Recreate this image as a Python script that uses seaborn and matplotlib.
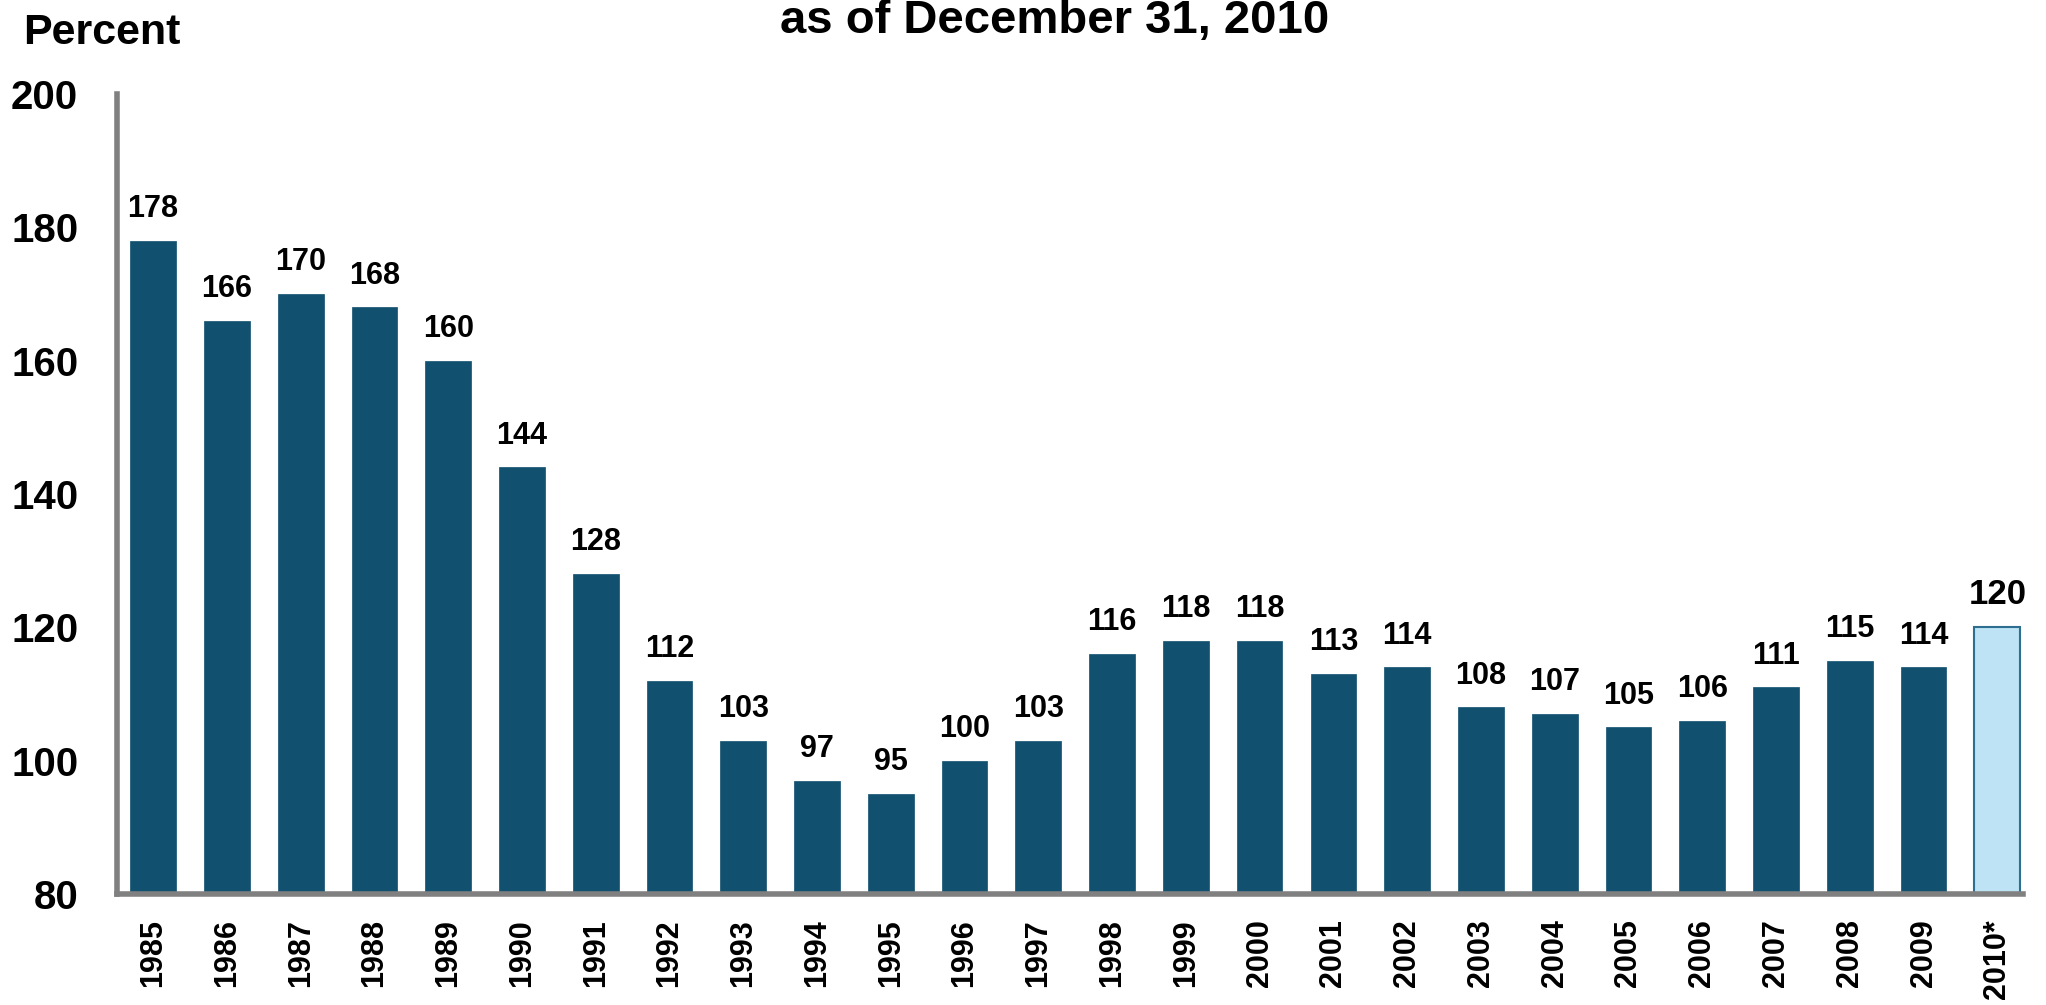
import matplotlib
matplotlib.use('Agg')
import matplotlib.pyplot as plt
import seaborn as sns
import pandas as pd

years = ['1985', '1986', '1987', '1988', '1989', '1990', '1991', '1992', '1993',
         '1994', '1995', '1996', '1997', '1998', '1999', '2000', '2001', '2002',
         '2003', '2004', '2005', '2006', '2007', '2008', '2009', '2010*']
values = [178, 166, 170, 168, 160, 144, 128, 112, 103, 97, 95, 100, 103,
          116, 118, 118, 113, 114, 108, 107, 105, 106, 111, 115, 114, 120]

dark = '#11506F'
light = '#BDE3F4'
colors = [dark] * (len(years) - 1) + [light]

df = pd.DataFrame({'year': years, 'value': values})

sns.set_style('white')
plt.rcParams['font.family'] = ['Liberation Sans', 'DejaVu Sans']
plt.rcParams['font.weight'] = 'bold'
plt.rcParams['text.color'] = 'black'
plt.rcParams['xtick.color'] = 'black'
plt.rcParams['ytick.color'] = 'black'

fig = plt.figure(figsize=(20.46, 10.05), dpi=100)
ax = fig.add_axes([0.0572, 0.1104, 0.9316, 0.7961])

sns.barplot(data=df, x='year', y='value', hue='year', palette=colors,
            legend=False, width=0.62, ax=ax, saturation=1, bottom=0)

# bars start at 80 (the axis floor)
ax.set_ylim(80, 200)
ax.set_xlim(-0.49, len(years) - 0.65)

for i, p in enumerate(ax.patches):
    if i == len(years) - 1:
        p.set_edgecolor('#2E6E8E')
        p.set_linewidth(1.5)
    else:
        p.set_edgecolor(dark)
        p.set_linewidth(0.5)

for i, cont in enumerate(ax.containers):
    size = 25 if i == len(ax.containers) - 1 else 22
    ax.bar_label(cont, fmt='%d', padding=12, fontsize=size, fontweight='bold',
                 color='black')

ax.set_yticks(range(80, 201, 20))
ax.tick_params(axis='y', length=0, pad=28, labelsize=29)
ax.tick_params(axis='x', length=0, pad=18, labelsize=22, rotation=90)
for lbl in ax.get_yticklabels() + ax.get_xticklabels():
    lbl.set_fontweight('bold')

ax.set_xlabel('')
ax.set_ylabel('')
for s in ['top', 'right']:
    ax.spines[s].set_visible(False)
for s in ['left', 'bottom']:
    ax.spines[s].set_color('#808080')
    ax.spines[s].set_linewidth(4)

fig.text(0.0112, 0.956, 'Percent', fontsize=31, fontweight='bold',
         va='baseline', ha='left')
fig.text(0.5156, 0.967, 'as of December 31, 2010', fontsize=34, fontweight='bold',
         va='baseline', ha='center')

fig.savefig('out.png', dpi=100)
